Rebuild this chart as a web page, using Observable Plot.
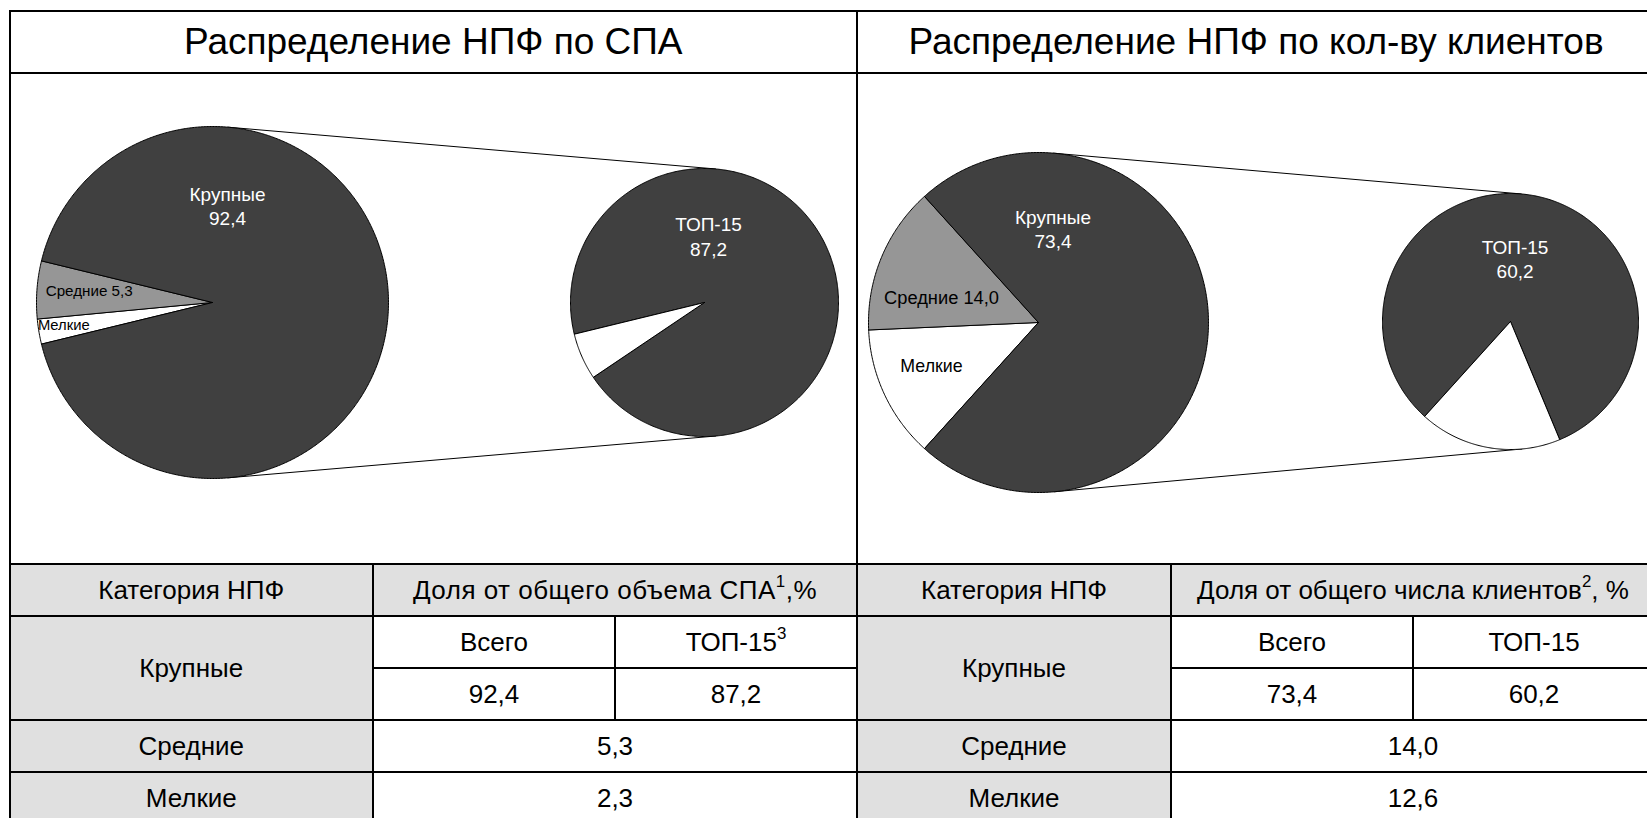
<!DOCTYPE html>
<html><head><meta charset="utf-8">
<script src="https://cdn.jsdelivr.net/npm/d3@7"></script>
<script src="https://cdn.jsdelivr.net/npm/@observablehq/plot@0.6"></script>
<style>
body{margin:0;background:#fff;font-family:"Liberation Sans",Arial,sans-serif;}
#root{position:relative;width:1647px;height:818px;overflow:hidden;background:#fff;}
.ln{position:absolute;background:#000;}
.cell{position:absolute;display:flex;align-items:center;justify-content:center;color:#000;white-space:nowrap;}
sup{font-size:0.65em;position:relative;top:-0.5em;vertical-align:baseline;line-height:0;}
</style></head><body><div id="root"></div>
<script>
// ---------------- data ----------------
const categories = ["Крупные", "Средние", "Мелкие"];
const spaShare = [92.4, 5.3, 2.3];          // доля от общего объема СПА, %
const spaTop15 = 87.2;                       // ТОП-15 внутри крупных
const clientShare = [73.4, 14.0, 12.6];      // доля от общего числа клиентов, %
const clientTop15 = 60.2;
const top15Name = "ТОП-15";
const restName = "Прочие крупные";
const titles = ["Распределение НПФ по СПА", "Распределение НПФ по кол-ву клиентов"];
const catHeader = "Категория НПФ";
const shareHeaders = [["Доля от общего объема СПА", "1", ",%"], ["Доля от общего числа клиентов", "2", ", %"]];
const subHeaders = [["Всего", "ТОП-15", "3"], ["Всего", "ТОП-15", ""]];

const fmt = v => d3.format(".1f")(v).replace(".", ",");

// ---------------- layout / style ----------------
const FONT = '"Liberation Sans", Arial, sans-serif';
const TITLE_SIZE = 37, TABLE_SIZE = 26;
const sliceColors = {domain: [categories[0], categories[1], categories[2], top15Name, restName],
                     range: ["#404040", "#969696", "#ffffff", "#404040", "#ffffff"]};
const yTop = 10.5, yTitle = 73, yTable = 564, rowH = 52;
const panels = [
  {x0: 9.5, x1: 857, xCat: 373, xSplit: 615, share: spaShare, top: spaTop15, headerSpacing: 0.5,
   svg: {left: 11, top: 74, W: 845, H: 489},
   big: {cx: 201, cy: 228, r: 176}, small: {cx: 693, cy: 228, r: 134},
   labels: [
     {pie: "big", i: 0, mode: "two", dx: 15, dy: -97.5, size: 19, color: "#fff"},
     {pie: "big", i: 1, mode: "inline", dx: -123.3, dy: -13.3, size: 15.2, color: "#000"},
     {pie: "big", i: 2, mode: "name", dx: -148.7, dy: 21, size: 14.8, color: "#000"},
     {pie: "small", i: 0, mode: "two", dx: 4, dy: -67, size: 19, color: "#fff"}
   ]},
  {x0: 857, x1: 1655, xCat: 1171, xSplit: 1413, share: clientShare, top: clientTop15, headerSpacing: 0,
   svg: {left: 858, top: 74, W: 797, H: 489},
   big: {cx: 180, cy: 248, r: 170}, small: {cx: 652, cy: 247, r: 128},
   labels: [
     {pie: "big", i: 0, mode: "two", dx: 14.5, dy: -94.3, size: 19, color: "#fff"},
     {pie: "big", i: 1, mode: "inline", dx: -97, dy: -26.5, size: 18.3, color: "#000"},
     {pie: "big", i: 2, mode: "name", dx: -107, dy: 41.7, size: 17.8, color: "#000"},
     {pie: "small", i: 0, mode: "two", dx: 4.6, dy: -63.5, size: 19, color: "#fff"}
   ]}
];

const root = document.getElementById("root");
function el(tag, cls, style, html) {
  const e = document.createElement(tag);
  if (cls) e.className = cls;
  Object.assign(e.style, style);
  if (html != null) e.innerHTML = html;
  root.appendChild(e);
  return e;
}
function hline(y, x0, x1, t = 2) { el("div", "ln", {left: x0 - t/2 + "px", top: y - t/2 + "px", width: (x1 - x0 + t) + "px", height: t + "px"}); }
function vline(x, y0, y1, t = 2) { el("div", "ln", {left: x - t/2 + "px", top: y0 - t/2 + "px", width: t + "px", height: (y1 - y0 + t) + "px"}); }
function cell(x0, x1, y0, y1, bg, html, size = TABLE_SIZE, spacing = 0) {
  el("div", "cell", {left: x0 + "px", top: y0 + "px", width: (x1 - x0) + "px", height: (y1 - y0) + "px",
    background: bg, fontSize: size + "px", letterSpacing: spacing + "px"}, html);
}

// ---------------- pies ----------------
function slices(values, names, start, c, prefix) {
  const arcs = d3.pie().sort(null).value(d => d).startAngle(start).endAngle(start + 2 * Math.PI)(values);
  const pts = [];
  arcs.forEach((a, i) => {
    const id = prefix + i, cat = names[i];
    pts.push({id, cat, x: c.cx, y: c.cy});
    const n = Math.max(2, Math.ceil((a.endAngle - a.startAngle) / (Math.PI / 360)));
    for (let k = 0; k <= n; k++) {
      const t = a.startAngle + (a.endAngle - a.startAngle) * k / n;
      pts.push({id, cat, x: c.cx + c.r * Math.sin(t), y: c.cy - c.r * Math.cos(t)});
    }
    pts.push({id, cat, x: c.cx, y: c.cy});
  });
  return pts;
}
function tangents(c1, c2) {
  const dx = c2.cx - c1.cx, dy = c2.cy - c1.cy, D = Math.hypot(dx, dy);
  const ux = dx / D, uy = dy / D, s = (c1.r - c2.r) / D, co = Math.sqrt(1 - s * s);
  return [[-uy, ux], [uy, -ux]].map(([vx, vy]) => {
    const nx = s * ux + co * vx, ny = s * uy + co * vy;
    return {x1: c1.cx + c1.r * nx, y1: c1.cy + c1.r * ny, x2: c2.cx + c2.r * nx, y2: c2.cy + c2.r * ny};
  });
}

panels.forEach((p, pi) => {
  const big = p.share[0];
  // big pie order: Мелкие, Средние, Крупные; Крупные is centred facing the secondary pie
  const start = Math.PI / 2 + big / 100 * Math.PI;
  const bigVals = [p.share[2], p.share[1], p.share[0]];
  const bigNames = [categories[2], categories[1], categories[0]];
  const smallVals = [p.top, big - p.top];
  const smallNames = [top15Name, restName];
  const polys = slices(bigVals, bigNames, start, p.big, "b").concat(slices(smallVals, smallNames, start, p.small, "s"));
  const links = tangents(p.big, p.small);
  const labelData = p.labels.map(l => {
    const c = l.pie === "big" ? p.big : p.small;
    const name = l.pie === "big" ? categories[l.i] : top15Name;
    const v = l.pie === "big" ? p.share[l.i] : p.top;
    const text = l.mode === "two" ? name + "\n" + fmt(v) : l.mode === "inline" ? name + " " + fmt(v) : name;
    return {x: c.cx + l.dx, y: c.cy + l.dy, text, size: l.size, color: l.color};
  });
  const W = p.svg.W, H = p.svg.H;
  const chart = Plot.plot({
    width: W, height: H, margin: 0,
    x: {domain: [0, W], range: [0, W], axis: null},
    y: {domain: [0, H], range: [0, H], axis: null},
    color: sliceColors,
    style: {fontFamily: FONT, background: "transparent", overflow: "visible"},
    marks: [
      Plot.link(links, {x1: "x1", y1: "y1", x2: "x2", y2: "y2", stroke: "#000", strokeWidth: 1}),
      Plot.line(polys, {x: "x", y: "y", z: "id", fill: "cat", stroke: "#000", strokeWidth: 1, strokeLinejoin: "round"}),
      Plot.text(labelData.filter(d => d.color === "#fff"), {x: "x", y: "y", text: "text", fontSize: "size", fill: "#fff", lineHeight: 1.3, lineAnchor: "middle"}),
      Plot.text(labelData.filter(d => d.color !== "#fff"), {x: "x", y: "y", text: "text", fontSize: "size", fill: "#000", lineHeight: 1.3, lineAnchor: "middle"})
    ]
  });
  Object.assign(chart.style, {position: "absolute", left: p.svg.left + "px", top: p.svg.top + "px"});
  root.appendChild(chart);

  // title
  cell(p.x0, p.x1, yTop, yTitle, "transparent", titles[pi], TITLE_SIZE);
  // table
  const r0 = yTable, r1 = r0 + rowH, r2 = r1 + rowH, r3 = r2 + rowH, r4 = r3 + rowH, r5 = r4 + rowH;
  const gray = "#e0e0e0";
  cell(p.x0, p.xCat, r0, r1, gray, catHeader);
  cell(p.xCat, p.x1, r0, r1, gray, shareHeaders[pi][0] + "<sup>" + shareHeaders[pi][1] + "</sup>" + shareHeaders[pi][2], TABLE_SIZE, p.headerSpacing);
  cell(p.x0, p.xCat, r1, r3, gray, categories[0]);
  cell(p.xCat, p.xSplit, r1, r2, "#fff", subHeaders[pi][0]);
  cell(p.xSplit, p.x1, r1, r2, "#fff", subHeaders[pi][1] + (subHeaders[pi][2] ? "<sup>" + subHeaders[pi][2] + "</sup>" : ""));
  cell(p.xCat, p.xSplit, r2, r3, "#fff", fmt(p.share[0]));
  cell(p.xSplit, p.x1, r2, r3, "#fff", fmt(p.top));
  cell(p.x0, p.xCat, r3, r4, gray, categories[1]);
  cell(p.xCat, p.x1, r3, r4, "#fff", fmt(p.share[1]));
  cell(p.x0, p.xCat, r4, r5, gray, categories[2]);
  cell(p.xCat, p.x1, r4, r5, "#fff", fmt(p.share[2]));
  // table lines
  [r0, r1, r3, r4].forEach(y => hline(y, p.x0, p.x1));
  hline(r2, p.xCat, p.x1);
  vline(p.xCat, r0, 830);
  vline(p.xSplit, r1, r3);
});
// frame
hline(yTop, 9.5, 1655);
hline(yTitle, 9.5, 1655);
vline(9.5, yTop, 830);
vline(857, yTop, 830);
vline(1655, yTop, 830);
</script></body></html>
